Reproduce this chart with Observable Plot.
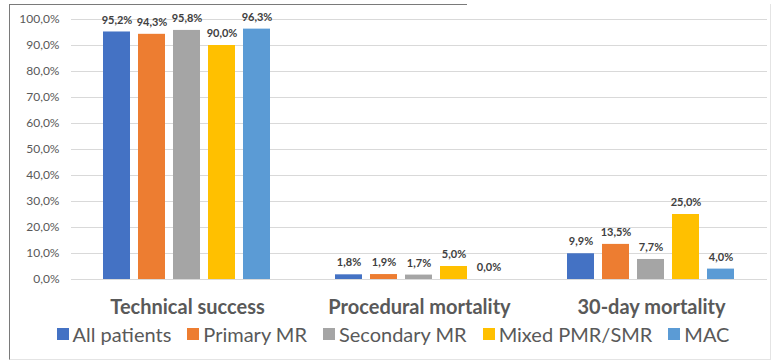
<!DOCTYPE html>
<html>
<head>
<meta charset="utf-8">
<script src="https://cdn.jsdelivr.net/npm/d3@7"></script>
<script src="https://cdn.jsdelivr.net/npm/@observablehq/plot@0.6"></script>
<style>
  html, body { margin: 0; padding: 0; background: #fff; }
  #chart { position: relative; width: 778px; height: 363px; overflow: hidden; font-family: Lato, sans-serif; }
  #frame { position: absolute; left: 9px; top: 4px; width: 760px; height: 355px;
           border-left: 1.5px solid #7a7a7a; border-right: 1px solid #e4e4e4; border-bottom: 1px solid #e4e4e4; }
  #frame-top { position: absolute; left: 9px; top: 4px; width: 458px; height: 0; border-top: 1.5px solid #7a7a7a; }
  #plot { position: absolute; left: 0; top: 0; }
  #legend { position: absolute; left: 12px; top: 321px; width: 778px; }
  #legend [class*="swatches"] { font: 20px Lato, sans-serif !important; color: #595959 !important;
           justify-content: center; min-height: 26px !important; margin: 0 !important; }
  #legend [class$="-swatch"] { margin-right: 16px !important; }
  #legend [class$="-swatch"] > svg { margin-right: 4px !important; }
</style>
</head>
<body>
<div id="chart">
  <div id="frame"></div>
  <div id="frame-top"></div>
  <div id="plot"></div>
  <div id="legend"></div>
</div>
<script>
// Outcome groups along the horizontal axis
const groups = ["Technical success", "Procedural mortality", "30-day mortality"];

// Patient subgroups (one bar per subgroup in each outcome)
const series = ["All patients", "Primary MR", "Secondary MR", "Mixed PMR/SMR", "MAC"];

// Percentages per subgroup, in the order of `groups`
const allPatients = [95.2, 1.8, 9.9];
const primaryMR   = [94.3, 1.9, 13.5];
const secondaryMR = [95.8, 1.7, 7.7];
const mixedMR     = [90.0, 5.0, 25.0];
const mac         = [96.3, 0.0, 4.0];

// Y axis tick values (percent)
const yTicks = [0, 10, 20, 30, 40, 50, 60, 70, 80, 90, 100];

const colors = ["#4472c4", "#ed7d31", "#a5a5a5", "#ffc000", "#5b9bd5"];

const seriesValues = [allPatients, primaryMR, secondaryMR, mixedMR, mac];
const rows = groups.flatMap((g, i) =>
  series.map((s, j) => ({group: g, series: s, value: seriesValues[j][i]}))
);

const pct = (v) => v.toFixed(1).replace(".", ",") + "%";

const chart = Plot.plot({
  width: 778,
  height: 320,
  marginTop: 19,
  marginBottom: 41,
  marginLeft: 70,
  marginRight: 11,
  style: {fontFamily: "Lato, sans-serif", background: "transparent", overflow: "visible"},
  fx: {domain: groups, padding: 0, label: null},
  x: {domain: series, paddingInner: 0.22, paddingOuter: 0.85, axis: null},
  y: {domain: [0, 100], label: null},
  color: {domain: series, range: colors},
  marks: [
    Plot.gridY(yTicks, {stroke: "#d9d9d9", strokeOpacity: 1, strokeWidth: 1}),
    Plot.axisY(yTicks, {
      tickSize: 0, tickPadding: 12, tickFormat: pct,
      fontSize: 12, fill: "#595959", label: null
    }),
    Plot.axisFx({
      anchor: "bottom", tickSize: 0, tickPadding: 20,
      fontSize: 20, fontWeight: "bold", fill: "#595959", label: null
    }),
    Plot.barY(rows, {fx: "group", x: "series", y: "value", fill: "series"}),
    Plot.text(rows, {
      fx: "group", x: "series", y: "value",
      text: (d) => pct(d.value),
      dy: -12, fontSize: 11, fontWeight: "bold", fill: "#404040"
    })
  ]
});
document.getElementById("plot").appendChild(chart);

const legend = Plot.legend({
  color: {domain: series, range: colors},
  legend: "swatches",
  swatchSize: 12
});
document.getElementById("legend").appendChild(legend);
</script>
</body>
</html>
